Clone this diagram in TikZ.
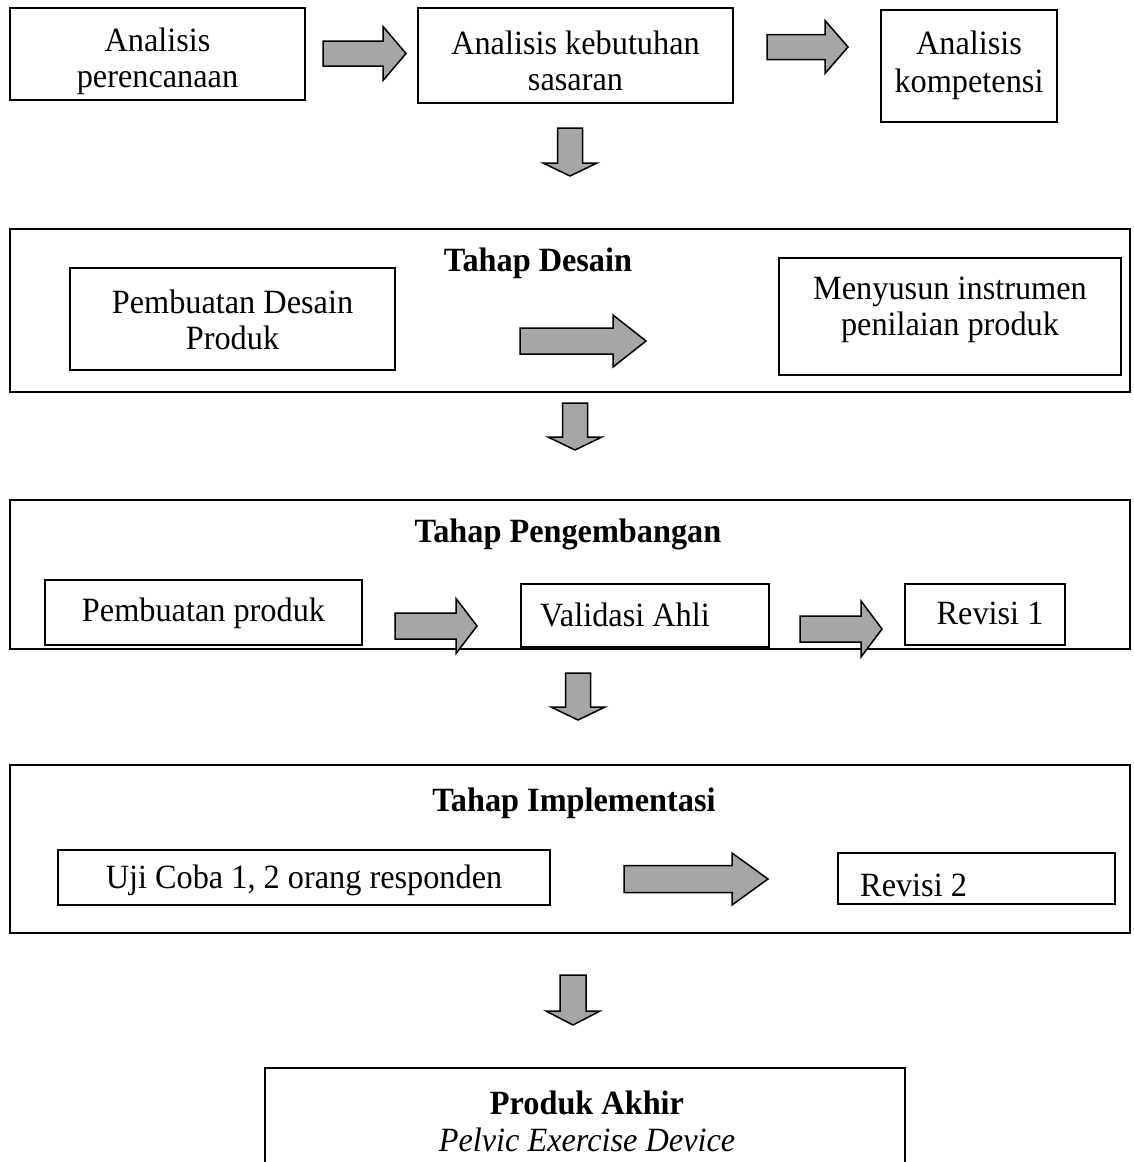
\documentclass[tikz,border=0pt]{standalone}
\usepackage{fontspec}
\setmainfont{Liberation Serif}[FakeStretch=0.95]
\begin{document}
\begin{tikzpicture}[x=1pt,y=-1pt,
  box/.style={draw=black,line width=1.6pt,fill=white,inner sep=0pt},
  frame/.style={draw=black,line width=1.8pt},
  txt/.style={inner sep=0pt,align=center,font=\fontsize{34}{36}\selectfont},
  ttl/.style={inner sep=0pt,align=center,font=\fontsize{34}{36}\selectfont\bfseries},
  blk/.style={draw=black,line width=1.5pt,fill=black!35,line join=miter}]
\clip (0,0) rectangle (1133,1162);
\fill[white] (0,0) rectangle (1133,1162);
\newcommand\rarrow[6]{\draw[blk] (#1,#4-#5) -- (#2,#4-#5) -- (#2,#4-#6) -- (#3,#4) -- (#2,#4+#6) -- (#2,#4+#5) -- (#1,#4+#5) -- cycle;}
\newcommand\darrow[6]{\draw[blk] (#1-#5,#2) -- (#1+#5,#2) -- (#1+#5,#3) -- (#1+#6,#3) -- (#1,#4) -- (#1-#6,#3) -- (#1-#5,#3) -- cycle;}

% top row
\node[box,minimum width=295,minimum height=92] (a1) at (157.5,54) {};
\node[txt] (a1t) at (157.5,61) {Analisis\\perencanaan};
\node[box,minimum width=315,minimum height=95] (a2) at (575.5,55.5) {};
\node[txt] (a2t) at (575.5,61) {Analisis kebutuhan\\sasaran};
\node[box,minimum width=176,minimum height=112] (a3) at (969,66) {};
\node[txt,font=\fontsize{34}{38}\selectfont] (a3t) at (969,65) {Analisis\\kompetensi};
\rarrow{323}{383}{406}{53.5}{12.5}{27}
\rarrow{767}{825}{848}{47}{12.5}{26.5}
\darrow{570}{128}{163}{176}{12.5}{27}

% Tahap Desain
\draw[frame] (10,229) rectangle (1130,392);
\node[ttl] (t1) at (538,263) {Tahap Desain};
\node[box,minimum width=325,minimum height=102] (d1) at (232.5,319) {};
\node[txt] (d1t) at (232.5,320) {Pembuatan Desain\\Produk};
\node[box,minimum width=342,minimum height=117] (d2) at (950,316.5) {};
\node[txt] (d2t) at (950,310) {Menyusun instrumen\\penilaian produk};
\rarrow{520}{613}{646}{341}{13}{26}
\darrow{575}{403}{437}{450}{12.5}{27}

% Tahap Pengembangan
\draw[frame] (10,500) rectangle (1130,649);
\node[ttl] (t2) at (568,534) {Tahap Pengembangan};
\node[box,minimum width=317,minimum height=65] (p1) at (203.5,612.5) {};
\node[txt] (p1t) at (203.5,613) {Pembuatan produk};
\node[box,minimum width=248,minimum height=63] (p2) at (645,615.5) {};
\node[txt,anchor=west] (p2t) at (540,615) {Validasi Ahli};
\node[box,minimum width=160,minimum height=61] (p3) at (985,614.5) {};
\node[txt] (p3t) at (990,613) {Revisi 1};
\rarrow{395}{456}{477}{626}{13}{27.5}
\rarrow{800}{861}{882}{629}{13}{28}
\darrow{578}{673}{707}{720}{12.5}{27}

% Tahap Implementasi
\draw[frame] (10,765) rectangle (1130,933);
\node[ttl] (t3) at (574,803) {Tahap Implementasi};
\node[box,minimum width=492,minimum height=55] (i1) at (304,877.5) {};
\node[txt] (i1t) at (304,880) {Uji Coba 1, 2 orang responden};
\node[box,minimum width=277,minimum height=51] (i2) at (976.5,878.5) {};
\node[txt,anchor=west] (i2t) at (860,885) {Revisi 2};
\rarrow{624}{732}{768}{879}{13.5}{26}
\darrow{573}{975}{1011}{1025}{13}{27}

% Produk Akhir
\draw[frame] (265,1190) -- (265,1068) -- (905,1068) -- (905,1190);
\node[ttl] (f1) at (587,1103) {Produk Akhir};
\node[txt,font=\fontsize{34}{37}\selectfont\itshape] (f2) at (587,1140) {Pelvic Exercise Device};
\end{tikzpicture}
\end{document}
